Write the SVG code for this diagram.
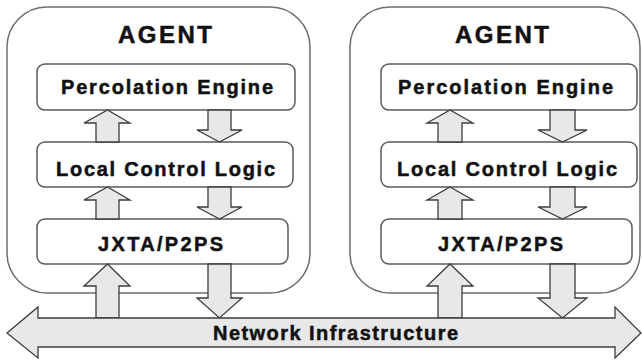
<svg xmlns="http://www.w3.org/2000/svg" width="642" height="361" viewBox="0 0 642 361">
<style>
.agent{fill:#fff;stroke:#6e6e6e;stroke-width:1.5}
.box{fill:#fff;stroke:#5a5a5a;stroke-width:1.5}
.arr{fill:#e8e8e8;stroke:#3c3c3c;stroke-width:1.3;stroke-linejoin:miter}
.t{font-family:"Liberation Sans",Arial,sans-serif;font-weight:bold;fill:#111;stroke:#111;stroke-width:0.5}
.h{font-size:24px}
.l{font-size:20px}
</style>
<rect width="642" height="361" fill="#fff"/>
<g id="agent-left">
<rect class="agent" x="7" y="7" width="303" height="286" rx="40" ry="40"/>
<text class="t h" x="118" y="43" textLength="94" lengthAdjust="spacing">AGENT</text>
</g>
<g id="agent-right">
<rect class="agent" x="350" y="7" width="290" height="286" rx="40" ry="40"/>
<text class="t h" x="455" y="43" textLength="94" lengthAdjust="spacing">AGENT</text>
</g>
<g id="pe-left">
<rect class="box" x="37" y="64" width="258" height="46" rx="8"/>
<text class="t l" x="61" y="94" textLength="212" lengthAdjust="spacing">Percolation Engine</text>
</g>
<g id="lcl-left">
<rect class="box" x="37" y="142" width="256" height="45" rx="8"/>
<text class="t l" x="56" y="176" textLength="219" lengthAdjust="spacing">Local Control Logic</text>
</g>
<g id="jxta-left">
<rect class="box" x="37" y="219" width="251" height="45" rx="8"/>
<text class="t l" x="98" y="251" textLength="125" lengthAdjust="spacing">JXTA/P2PS</text>
</g>
<g id="pe-right">
<rect class="box" x="381" y="64" width="256" height="46" rx="8"/>
<text class="t l" x="398" y="94" textLength="215" lengthAdjust="spacing">Percolation Engine</text>
</g>
<g id="lcl-right">
<rect class="box" x="381" y="142" width="256" height="45" rx="8"/>
<text class="t l" x="397" y="176" textLength="220" lengthAdjust="spacing">Local Control Logic</text>
</g>
<g id="jxta-right">
<rect class="box" x="381" y="219" width="251" height="45" rx="8"/>
<text class="t l" x="438" y="251" textLength="125" lengthAdjust="spacing">JXTA/P2PS</text>
</g>
<g id="connectors">
<polygon class="arr" points="96,142 96,123 84,123 107.5,110 130,123 119,123 119,142"/>
<polygon class="arr" points="208,110 231,110 231,130 242,130 219.5,142 197,130 208,130"/>
<polygon class="arr" points="96,219 96,200 84,200 107.5,187 130,200 119,200 119,219"/>
<polygon class="arr" points="208,187 231,187 231,207 242,207 219.5,219 197,207 208,207"/>
<polygon class="arr" points="96,318 96,286 84,286 107.5,264 130,286 119,286 119,318"/>
<polygon class="arr" points="208,264 231,264 231,298 242,298 219.5,318 197,298 208,298"/>
<polygon class="arr" points="438,142 438,123 427,123 450,110 473,123 462,123 462,142"/>
<polygon class="arr" points="550,110 575,110 575,130 587,130 562.5,142 538,130 550,130"/>
<polygon class="arr" points="438,219 438,200 427,200 450,187 473,200 462,200 462,219"/>
<polygon class="arr" points="550,187 575,187 575,207 587,207 562.5,219 538,207 550,207"/>
<polygon class="arr" points="438,318 438,286 427,286 450,264 473,286 462,286 462,318"/>
<polygon class="arr" points="550,264 575,264 575,298 587,298 562.5,318 538,298 550,298"/>
</g>
<g id="network">
<polygon class="arr" points="7,333 38,307 38,318 615,318 615,307 641,333 615,358 615,347 38,347 38,358"/>
<text class="t l" x="213" y="340" textLength="245" lengthAdjust="spacing">Network Infrastructure</text>
</g>
</svg>
